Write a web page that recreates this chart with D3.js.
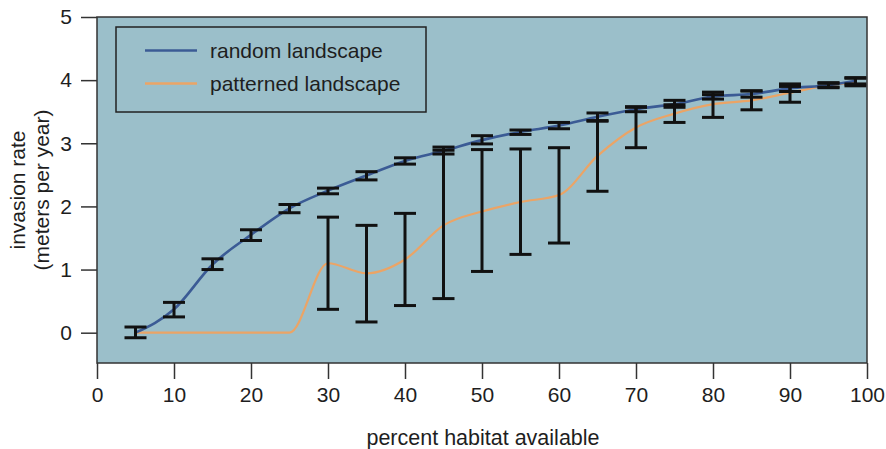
<!DOCTYPE html>
<html>
<head>
<meta charset="utf-8">
<script src="https://cdn.jsdelivr.net/npm/d3@7"></script>
<style>
    body { margin: 0; background: #fff; }
    svg text { font-family: "Liberation Sans", Arial, Helvetica, sans-serif; fill: #1e1e1e; }
</style>
</head>
<body>
<div id="chart"></div>
<script>
// percent habitat available
const habitat = [5, 10, 15, 20, 25, 30, 35, 40, 45, 50, 55, 60, 65, 70, 75, 80, 85, 90, 95, 98.5];

// random landscape: mean and error bar ends
const randomMean = [0.0, 0.37, 1.08, 1.55, 1.97, 2.25, 2.49, 2.72, 2.88, 3.05, 3.18, 3.28, 3.42, 3.54, 3.62, 3.74, 3.78, 3.87, 3.92, 3.99];
const randomLow  = [-0.08, 0.25, 1.0, 1.46, 1.9, 2.2, 2.42, 2.67, 2.83, 2.99, 3.14, 3.23, 3.36, 3.5, 3.57, 3.7, 3.73, 3.82, 3.89, 3.94];
const randomHigh = [0.09, 0.48, 1.17, 1.63, 2.03, 2.29, 2.55, 2.77, 2.94, 3.12, 3.21, 3.33, 3.48, 3.58, 3.68, 3.81, 3.83, 3.94, 3.95, 4.04];

// patterned landscape
const patternMean = [0, 0, 0, 0, 0, 1.1, 0.94, 1.16, 1.70, 1.92, 2.07, 2.18, 2.8, 3.25, 3.47, 3.62, 3.68, 3.8, 3.92, 3.97];
const patternLow  = [0, 0, 0, 0, 0, 0.37, 0.17, 0.43, 0.54, 0.97, 1.24, 1.42, 2.24, 2.93, 3.33, 3.41, 3.53, 3.65, 3.88, 3.91];
const patternHigh = [0, 0, 0, 0, 0, 1.83, 1.70, 1.89, 2.89, 2.90, 2.91, 2.93, 3.35, 3.57, 3.61, 3.77, 3.83, 3.9, 3.96, 4.03];

const xTicks = [0, 10, 20, 30, 40, 50, 60, 70, 80, 90, 100];
const yTicks = [0, 1, 2, 3, 4, 5];
const seriesNames = ["random landscape", "patterned landscape"];

const W = 886, H = 449;
const margin = { top: 17, right: 19, bottom: 86, left: 97 };

const svg = d3.select("#chart").append("svg")
    .attr("width", W)
    .attr("height", H);

const x = d3.scaleLinear().domain([0, 100]).range([margin.left, W - margin.right]);
const y = d3.scaleLinear().domain([-0.48, 5]).range([H - margin.bottom, margin.top]);

// plot background
svg.append("rect")
    .attr("x", x(0))
    .attr("y", y(5))
    .attr("width", x(100) - x(0))
    .attr("height", y(-0.48) - y(5))
    .attr("fill", "#9bbfca");

const randomData = habitat.map((h, i) => ({ x: h, m: randomMean[i], lo: randomLow[i], hi: randomHigh[i] }));
const patternData = habitat.map((h, i) => ({ x: h, m: patternMean[i], lo: patternLow[i], hi: patternHigh[i] }));

const line = d3.line()
    .x(d => x(d.x))
    .y(d => y(d.m))
    .curve(d3.curveMonotoneX);

svg.append("path")
    .datum(patternData)
    .attr("d", line)
    .attr("fill", "none")
    .attr("stroke", "#eba466")
    .attr("stroke-width", 2.2);

svg.append("path")
    .datum(randomData)
    .attr("d", line)
    .attr("fill", "none")
    .attr("stroke", "#3b5b95")
    .attr("stroke-width", 2.6);

// error bars
function drawBars(data) {
    const capW = 11;
    const g = svg.append("g")
        .attr("stroke", "#111")
        .attr("stroke-width", 3);
    data.filter(d => d.hi > d.lo).forEach(d => {
        const cx = x(d.x);
        g.append("line").attr("x1", cx).attr("x2", cx).attr("y1", y(d.lo)).attr("y2", y(d.hi));
        g.append("line").attr("x1", cx - capW).attr("x2", cx + capW).attr("y1", y(d.lo)).attr("y2", y(d.lo));
        g.append("line").attr("x1", cx - capW).attr("x2", cx + capW).attr("y1", y(d.hi)).attr("y2", y(d.hi));
    });
}
drawBars(patternData);
drawBars(randomData);

// border
svg.append("rect")
    .attr("x", x(0))
    .attr("y", y(5))
    .attr("width", x(100) - x(0))
    .attr("height", y(-0.48) - y(5))
    .attr("fill", "none")
    .attr("stroke", "#333")
    .attr("stroke-width", 1.5);

// axes
const yAxis = svg.append("g")
    .attr("transform", "translate(" + x(0) + ",0)")
    .call(d3.axisLeft(y).tickValues(yTicks).tickSize(16).tickPadding(9).tickFormat(d3.format("d")));
const xAxis = svg.append("g")
    .attr("transform", "translate(0," + y(-0.48) + ")")
    .call(d3.axisBottom(x).tickValues(xTicks).tickSize(16).tickPadding(8).tickFormat(d3.format("d")));

[xAxis, yAxis].forEach(a => {
    a.select(".domain").remove();
    a.selectAll(".tick line").attr("stroke", "#333").attr("stroke-width", 1.5);
    a.selectAll(".tick text").style("font-size", "21px").attr("fill", "#1e1e1e");
});

// axis titles
svg.append("text")
    .attr("x", (x(0) + x(100)) / 2 + 1)
    .attr("y", 445)
    .attr("text-anchor", "middle")
    .style("font-size", "21.5px")
    .text("percent habitat available");

const yMid = (y(5) + y(-0.48)) / 2;
svg.append("text")
    .attr("transform", "translate(25," + yMid + ") rotate(-90)")
    .attr("text-anchor", "middle")
    .style("font-size", "21px")
    .text("invasion rate");
svg.append("text")
    .attr("transform", "translate(49," + yMid + ") rotate(-90)")
    .attr("text-anchor", "middle")
    .style("font-size", "21px")
    .text("(meters per year)");

// legend
const legend = svg.append("g");
legend.append("rect")
    .attr("x", 116)
    .attr("y", 27)
    .attr("width", 310)
    .attr("height", 85)
    .attr("fill", "none")
    .attr("stroke", "#222")
    .attr("stroke-width", 1.5);

const legendColors = ["#3b5b95", "#eba466"];
seriesNames.forEach((name, i) => {
    const ly = 50.5 + i * 33;
    legend.append("line")
        .attr("x1", 145).attr("x2", 197)
        .attr("y1", ly).attr("y2", ly)
        .attr("stroke", legendColors[i])
        .attr("stroke-width", 2.4);
    legend.append("text")
        .attr("x", 210)
        .attr("y", ly)
        .attr("dy", "0.35em")
        .style("font-size", "21px")
        .text(name);
});
</script>
</body>
</html>
